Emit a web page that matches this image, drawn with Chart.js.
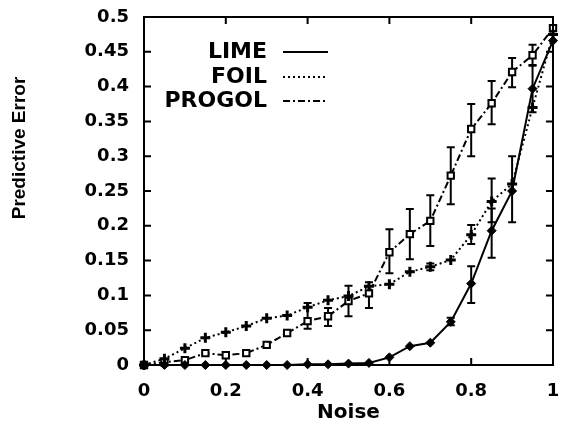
<!DOCTYPE html>
<html>
<head>
<meta charset="utf-8">
<script src="https://cdn.jsdelivr.net/npm/chart.js@4"></script>
<style>
html,body{margin:0;padding:0;background:#fff;}
canvas{display:block;}
</style>
</head>
<body>
<canvas id="c" width="561" height="429"></canvas>
<script>
// ---- data ----
const noise = [0,0.05,0.1,0.15,0.2,0.25,0.3,0.35,0.4,0.45,0.5,0.55,0.6,0.65,0.7,0.75,0.8,0.85,0.9,0.95,1];
const lime   = [0,0,0,0,0,0,0,0,0.001,0.001,0.002,0.003,0.011,0.027,0.032,0.062,0.117,0.193,0.25,0.397,0.466];
const foil   = [0,0.009,0.024,0.039,0.047,0.056,0.067,0.071,0.083,0.093,0.099,0.113,0.116,0.134,0.141,0.151,0.187,0.235,0.26,0.37,0.475];
const progol = [0,0.004,0.007,0.017,0.014,0.017,0.029,0.046,0.063,0.07,0.092,0.103,0.162,0.188,0.207,0.272,0.339,0.376,0.421,0.445,0.484];
const limeLow   = [null,null,null,null,null,null,null,null,null,null,null,null,null,null,null,0.057,0.089,0.154,null,0.363,null];
const limeHigh  = [null,null,null,null,null,null,null,null,null,null,null,null,null,null,null,0.068,0.142,0.225,null,0.43,null];
const foilLow   = [null,null,null,null,null,null,null,null,null,null,null,null,null,null,0.136,null,0.174,0.205,0.205,null,null];
const foilHigh  = [null,null,null,null,null,null,null,null,null,null,null,null,null,null,0.146,null,0.201,0.268,0.30,null,null];
const progolLow  = [null,null,null,null,null,null,null,null,0.052,0.056,0.07,0.082,0.132,0.152,0.171,0.231,0.300,0.346,0.399,0.431,null];
const progolHigh = [null,null,null,null,null,null,null,null,0.089,0.082,0.114,0.119,0.195,0.224,0.244,0.313,0.375,0.408,0.441,0.46,null];
const xTicks = [0,0.2,0.4,0.6,0.8,1];
const yTicks = [0,0.05,0.1,0.15,0.2,0.25,0.3,0.35,0.4,0.45,0.5];
const seriesNames = ["LIME","FOIL","PROGOL"];

const tickFont = {family:"DejaVu Sans", weight:"bold", size:18};

function pts(arr){ return noise.map((x,i)=>({x:x,y:arr[i]})); }

const errPlugin = {
  id:'extras',
  beforeDatasetsDraw(chart){
    const ctx = chart.ctx, xs = chart.scales.x, ys = chart.scales.y;
    const sets = [[limeLow,limeHigh],[foilLow,foilHigh],[progolLow,progolHigh]];
    ctx.save();
    ctx.strokeStyle = '#000'; ctx.lineWidth = 2; ctx.setLineDash([]);
    sets.forEach(([lo,hi])=>{
      noise.forEach((x,i)=>{
        if(lo[i]==null) return;
        const px = xs.getPixelForValue(x);
        const y1 = ys.getPixelForValue(lo[i]), y2 = ys.getPixelForValue(hi[i]);
        ctx.beginPath();
        ctx.moveTo(px,y1); ctx.lineTo(px,y2);
        ctx.moveTo(px-4,y1); ctx.lineTo(px+4,y1);
        ctx.moveTo(px-4,y2); ctx.lineTo(px+4,y2);
        ctx.stroke();
      });
    });
    ctx.restore();
  },
  afterDraw(chart){
    const ctx = chart.ctx, xs = chart.scales.x, ys = chart.scales.y;
    const a = chart.chartArea;
    ctx.save();
    ctx.strokeStyle = '#000'; ctx.lineWidth = 2; ctx.setLineDash([]);
    ctx.strokeRect(a.left, a.top, a.right-a.left, a.bottom-a.top);
    ctx.beginPath();
    xTicks.forEach(v=>{
      const px = xs.getPixelForValue(v);
      ctx.moveTo(px,a.bottom); ctx.lineTo(px,a.bottom-7);
      ctx.moveTo(px,a.top); ctx.lineTo(px,a.top+7);
    });
    yTicks.forEach(v=>{
      const py = ys.getPixelForValue(v);
      ctx.moveTo(a.left,py); ctx.lineTo(a.left+7,py);
      ctx.moveTo(a.right,py); ctx.lineTo(a.right-7,py);
    });
    ctx.stroke();
    // legend
    ctx.fillStyle = '#000';
    ctx.font = 'bold 22px "DejaVu Sans"';
    ctx.textAlign = 'right'; ctx.textBaseline = 'middle';
    const ly = [52,77,101];
    const dashes = [[],[2,3],[7,3,2,3]];
    seriesNames.forEach((n,i)=>{
      ctx.fillText(n, 267, ly[i]);
      ctx.setLineDash(dashes[i]);
      ctx.lineWidth = 2;
      ctx.beginPath(); ctx.moveTo(283,ly[i]); ctx.lineTo(328,ly[i]); ctx.stroke();
    });
    ctx.setLineDash([]);
    // axis titles
    ctx.textAlign = 'center';
    ctx.font = 'bold 20px "DejaVu Sans"';
    ctx.fillText('Noise', (a.left+a.right)/2, 413);
    ctx.save();
    ctx.translate(20,148); ctx.rotate(-Math.PI/2);
    ctx.font = 'bold 19px "Liberation Sans"';
    ctx.fillText('Predictive Error', 0, 0);
    ctx.restore();
    ctx.restore();
  }
};

const common = {showLine:true, fill:false, borderColor:'#000', backgroundColor:'#000', borderWidth:2, clip:false, tension:0};

new Chart(document.getElementById('c'), {
  type:'scatter',
  data:{datasets:[
    Object.assign({label:seriesNames[0], data:pts(lime), pointStyle:'rectRot', pointRadius:4.5, pointBorderWidth:1, pointBackgroundColor:'#000'}, common),
    Object.assign({label:seriesNames[1], data:pts(foil), borderDash:[2,3], pointStyle:'cross', pointRadius:5, pointBorderWidth:3, pointBackgroundColor:'#000'}, common),
    Object.assign({label:seriesNames[2], data:pts(progol), borderDash:[7,3,2,3], pointStyle:'rect', pointRadius:4.5, pointBorderWidth:2, pointBackgroundColor:'#fff'}, common)
  ]},
  options:{
    responsive:false, devicePixelRatio:1, animation:false,
    layout:{padding:{left:0,right:3,top:17,bottom:0}},
    plugins:{legend:{display:false}, tooltip:{enabled:false}},
    scales:{
      x:{type:'linear', min:0, max:1,
        afterBuildTicks(s){ s.ticks = xTicks.map(v=>({value:v})); },
        afterFit(s){ s.height = 64; s.paddingLeft = 0; s.paddingRight = 0; },
        grid:{display:false, drawTicks:false}, border:{display:false},
        ticks:{font:tickFont, color:'#000', padding:16, maxRotation:0, autoSkip:false, callback:v=>String(v)}},
      y:{type:'linear', min:0, max:0.5,
        afterBuildTicks(s){ s.ticks = yTicks.map(v=>({value:v})); },
        afterFit(s){ s.width = 144; s.paddingTop = 0; s.paddingBottom = 0; },
        grid:{display:false, drawTicks:false}, border:{display:false},
        ticks:{font:tickFont, color:'#000', padding:15, autoSkip:false, callback:v=>String(v)}}
    }
  },
  plugins:[errPlugin]
});
</script>
</body>
</html>
